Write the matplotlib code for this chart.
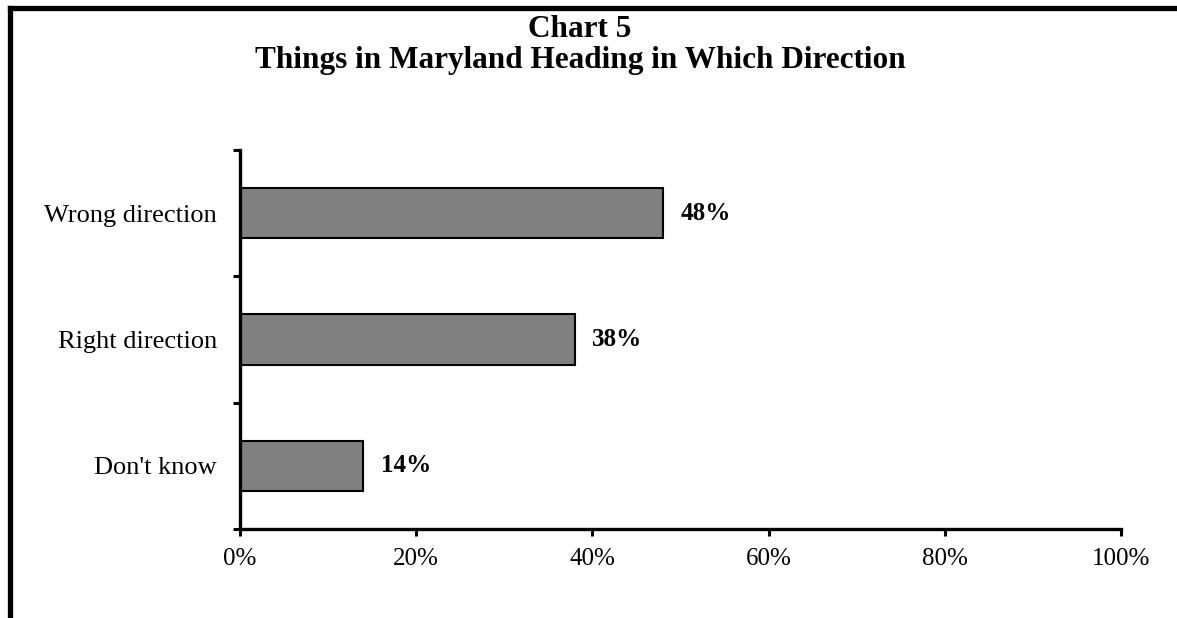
import matplotlib
matplotlib.use("Agg")
import matplotlib.pyplot as plt
from matplotlib.lines import Line2D
from matplotlib.ticker import FixedLocator, NullFormatter

categories = ["Don't know", "Right direction", "Wrong direction"]
values = [14, 38, 48]
xticks = [0, 20, 40, 60, 80, 100]
title = "Chart 5\nThings in Maryland Heading in Which Direction"

plt.rcParams["font.family"] = ["Liberation Serif", "DejaVu Serif"]

fig = plt.figure(figsize=(11.77, 6.18), dpi=100)
W, H = 1177, 618

# outer frame (left and top edges)
fig.add_artist(Line2D([9.5 / W, 9.5 / W], [0, 1 - 7.5 / H], color="black", lw=3.8,
                      solid_capstyle="projecting"))
fig.add_artist(Line2D([9.5 / W, 1.0], [1 - 7.5 / H, 1 - 7.5 / H], color="black", lw=3.8,
                      solid_capstyle="projecting"))

ax = fig.add_axes([240 / W, 1 - 529 / H, (1121 - 240) / W, (529 - 150) / H])

pos = list(range(len(categories)))
ax.barh(pos, values, height=0.4, color="#808080", edgecolor="black", linewidth=1.5)
for p, v in zip(pos, values):
    ax.text(v + 2.0, p, f"{v}%", va="center", ha="left", fontsize=18, fontweight="bold")

ax.set_xlim(0, 100)
ax.set_ylim(-0.5, len(categories) - 0.5)

ax.set_xticks(xticks)
ax.set_xticklabels([f"{t}%" for t in xticks], fontsize=18)
ax.yaxis.set_major_locator(FixedLocator([i - 0.5 for i in range(len(categories) + 1)]))
ax.yaxis.set_major_formatter(NullFormatter())
ax.yaxis.set_minor_locator(FixedLocator(pos))
ax.set_yticklabels(categories, minor=True, fontsize=19)
ax.tick_params(axis="y", which="minor", length=0, pad=16.5)
ax.tick_params(axis="y", which="major", length=5, width=2.2, direction="out")
ax.tick_params(axis="x", which="major", length=5, width=2.2, direction="out", pad=9)

for s in ["top", "right"]:
    ax.spines[s].set_visible(False)
for s in ["left", "bottom"]:
    ax.spines[s].set_linewidth(2.4)

fig.text(580 / W, 1 - 45 / H, title, ha="center", va="center",
         fontsize=22.5, fontweight="bold", linespacing=1.1)

fig.savefig("out.png", dpi=100)
